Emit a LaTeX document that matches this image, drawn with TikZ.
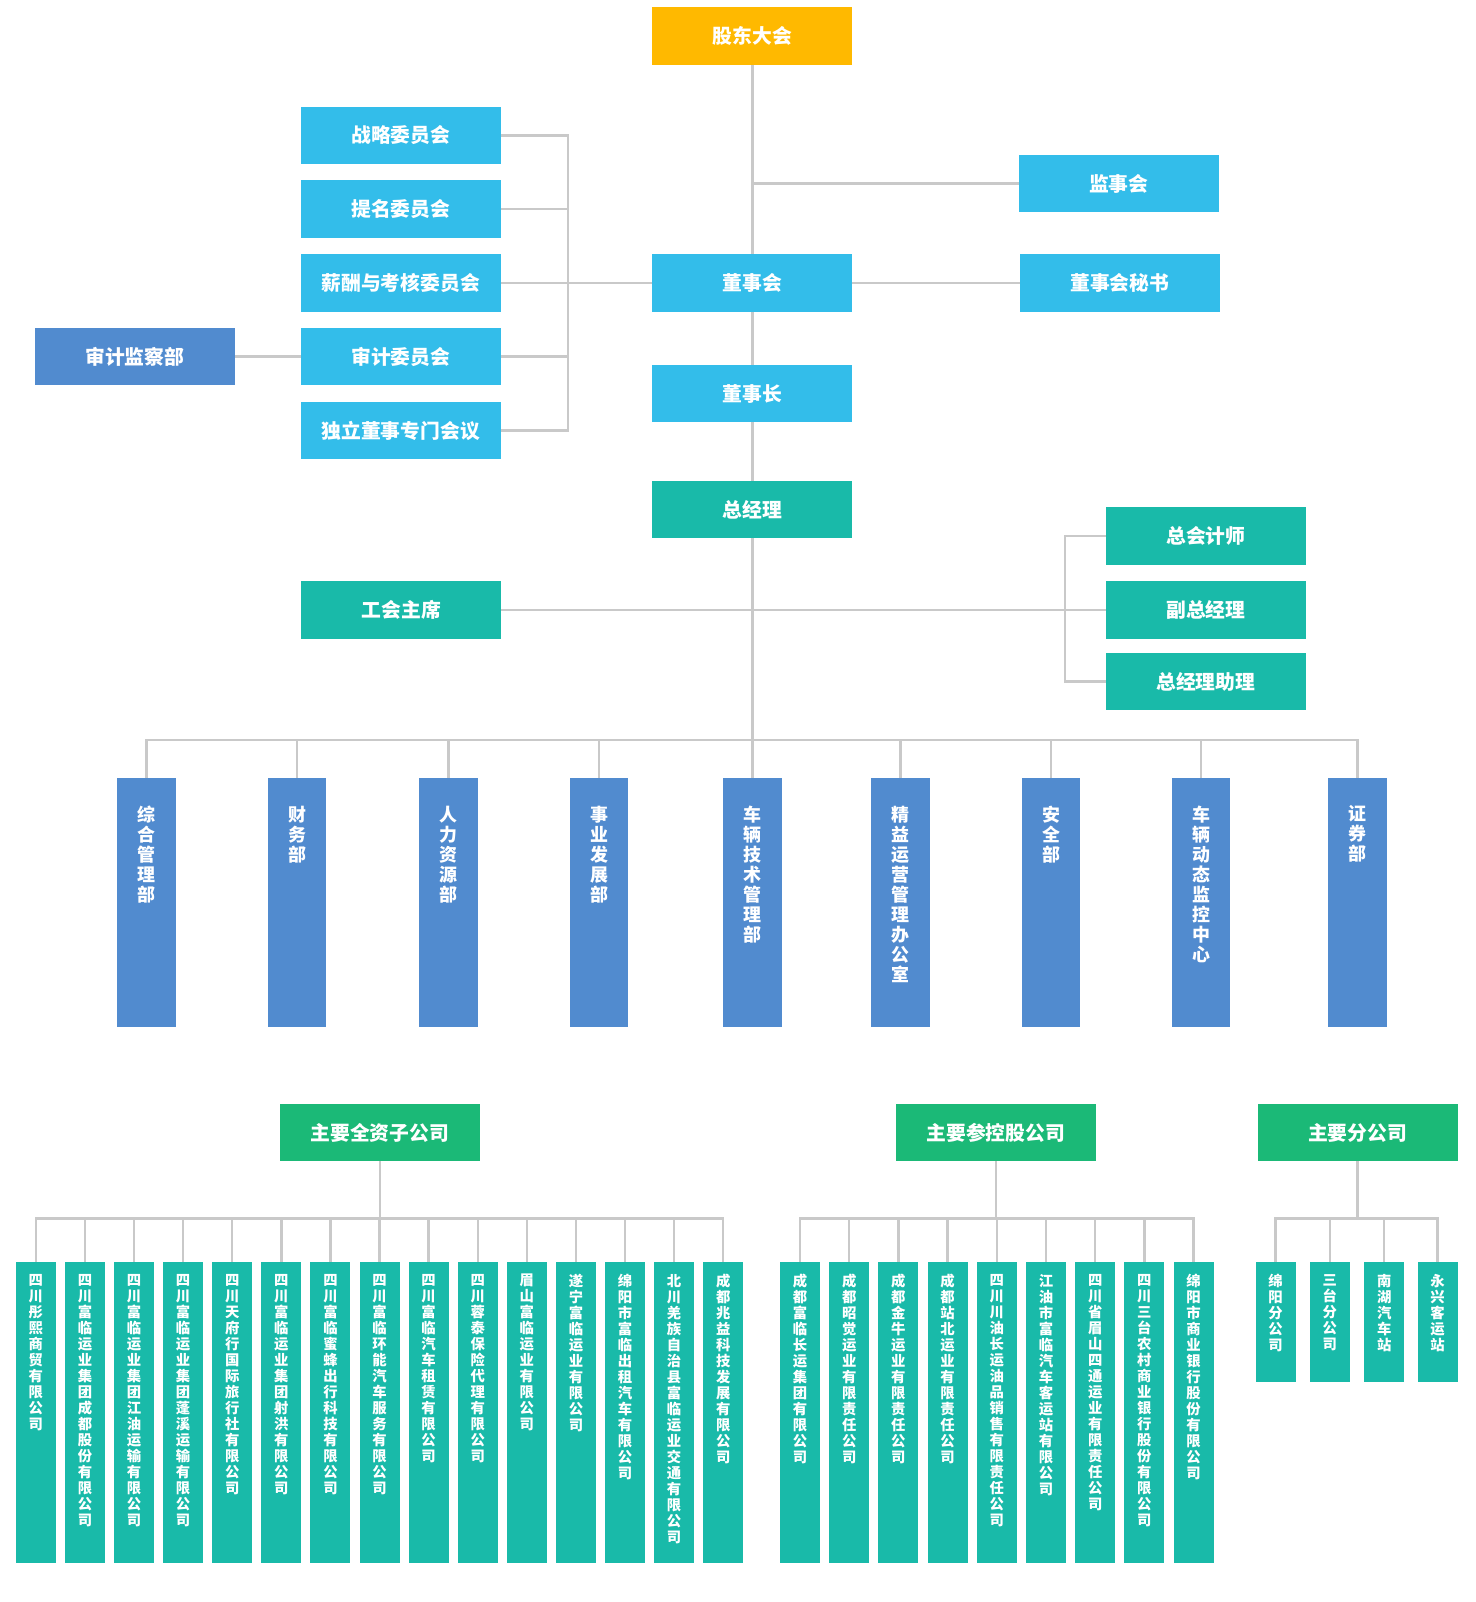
\documentclass[tikz,border=0pt]{standalone}
\usepackage{fontspec}
\setmainfont{Noto Sans CJK SC}
\definecolor{cOrange}{HTML}{FFB900}
\definecolor{cSky}{HTML}{33BDEA}
\definecolor{cTeal}{HTML}{19BAA9}
\definecolor{cBlue}{HTML}{518BCF}
\definecolor{cGreen}{HTML}{1BB977}
\definecolor{cLine}{HTML}{C9C9C9}
\newcommand\vstack[1]{\vstackloop#1\relax}
\def\vstackloop#1{\ifx\relax#1\else#1\par\expandafter\vstackloop\fi}
\newcommand\vlab[4]{\parbox[c][#2][t]{#1}{\centering\vspace*{#3}\vstack{#4}}}
\tikzset{
  hbox/.style={rectangle, inner sep=0pt, minimum width=195pt, minimum height=56pt,
    text=white, font=\fontsize{19.3}{19.3}\selectfont\bfseries},
  dept/.style={rectangle, inner sep=0pt, anchor=north, fill=cBlue, text=white,
    font=\fontsize{17.5}{19.5}\selectfont\bfseries},
  sub/.style={rectangle, inner sep=0pt, anchor=north, fill=cTeal, text=white,
    font=\fontsize{14}{15.6}\selectfont\bfseries},
  conn/.style={draw=cLine, line width=2.4pt}
}
\newcommand\dlab[1]{\vlab{57pt}{243pt}{27pt}{#1}}
\newcommand\slab[1]{\vlab{39pt}{294pt}{12pt}{#1}}
\newcommand\blab[1]{\vlab{39pt}{117pt}{12pt}{#1}}
\begin{document}
\begin{tikzpicture}[x=1pt,y=-1pt]
\useasboundingbox (0,0) rectangle (1440,1563);
% top chain
\node[hbox, fill=cOrange] (gd) at (734,35) {股东大会};
\node[hbox, fill=cSky] (dsh) at (734,276) {董事会};
\node[hbox, fill=cSky] (dsz) at (734,384) {董事长};
\node[hbox, fill=cTeal] (zjl) at (734,497) {总经理};
\node[hbox, fill=cSky] (jsh) at (1091.5,179) {监事会};
\node[hbox, fill=cSky] (ms) at (1092.5,276) {董事会秘书};
% committees
\node[hbox, fill=cSky] (c1) at (391,132) {战略委员会};
\node[hbox, fill=cSky] (c2) at (391,204) {提名委员会};
\node[hbox, fill=cSky] (c3) at (391,276) {薪酬与考核委员会};
\node[hbox, fill=cSky] (c4) at (391,348) {审计委员会};
\node[hbox, fill=cSky] (c5) at (391,420) {独立董事专门会议};
\node[hbox, fill=cBlue] (sj) at (131.5,348) {审计监察部};
\coordinate (bk1) at (554,0);
% general manager group
\node[hbox, fill=cTeal] (zk) at (1176.5,523) {总会计师};
\node[hbox, fill=cTeal] (fz) at (1176.5,595) {副总经理};
\node[hbox, fill=cTeal] (zl) at (1176.5,665) {总经理助理};
\node[hbox, fill=cTeal] (gh) at (391.5,595) {工会主席};
\coordinate (bk2) at (1039,0);
% departments
\coordinate (bus) at (0,722);
\node[dept] (d1) at (143,759) {\dlab{综合管理部}};
\node[dept] (d2) at (290,759) {\dlab{财务部}};
\node[dept] (d3) at (437.5,759) {\dlab{人力资源部}};
\node[dept] (d4) at (584.5,759) {\dlab{事业发展部}};
\node[dept] (d5) at (734,759) {\dlab{车辆技术管理部}};
\node[dept] (d6) at (878.5,759) {\dlab{精益运营管理办公室}};
\node[dept] (d7) at (1025.5,759) {\dlab{安全部}};
\node[dept] (d8) at (1172,759) {\dlab{车辆动态监控中心}};
\node[dept] (d9) at (1324.5,759) {\dlab{证券部}};
% bottom headers
\node[hbox, fill=cGreen] (ha) at (370.5,1105) {主要全资子公司};
\node[hbox, fill=cGreen] (hb) at (971.5,1105) {主要参控股公司};
\node[hbox, fill=cGreen] (hc) at (1324.5,1105) {主要分公司};
\coordinate (bus2) at (0,1189);
% group A
\node[sub] (a1) at (35.0,1231) {\slab{四川彤熙商贸有限公司}};
\node[sub] (a2) at (82.9,1231) {\slab{四川富临运业集团成都股份有限公司}};
\node[sub] (a3) at (130.8,1231) {\slab{四川富临运业集团江油运输有限公司}};
\node[sub] (a4) at (178.7,1231) {\slab{四川富临运业集团蓬溪运输有限公司}};
\node[sub] (a5) at (226.6,1231) {\slab{四川天府行国际旅行社有限公司}};
\node[sub] (a6) at (274.5,1231) {\slab{四川富临运业集团射洪有限公司}};
\node[sub] (a7) at (322.4,1231) {\slab{四川富临蜜蜂出行科技有限公司}};
\node[sub] (a8) at (370.3,1231) {\slab{四川富临环能汽车服务有限公司}};
\node[sub] (a9) at (418.2,1231) {\slab{四川富临汽车租赁有限公司}};
\node[sub] (a10) at (466.1,1231) {\slab{四川蓉泰保险代理有限公司}};
\node[sub] (a11) at (514.0,1231) {\slab{眉山富临运业有限公司}};
\node[sub] (a12) at (561.9,1231) {\slab{遂宁富临运业有限公司}};
\node[sub] (a13) at (609.8,1231) {\slab{绵阳市富临出租汽车有限公司}};
\node[sub] (a14) at (657.7,1231) {\slab{北川羌族自治县富临运业交通有限公司}};
\node[sub] (a15) at (705.6,1231) {\slab{成都兆益科技发展有限公司}};
% group B
\node[sub] (b1) at (780.5,1231) {\slab{成都富临长运集团有限公司}};
\node[sub] (b2) at (828.5,1231) {\slab{成都昭觉运业有限责任公司}};
\node[sub] (b3) at (876.5,1231) {\slab{成都金牛运业有限责任公司}};
\node[sub] (b4) at (924.5,1231) {\slab{成都站北运业有限责任公司}};
\node[sub] (b5) at (972.5,1231) {\slab{四川川油长运油品销售有限责任公司}};
\node[sub] (b6) at (1020.5,1231) {\slab{江油市富临汽车客运站有限公司}};
\node[sub] (b7) at (1068.5,1231) {\slab{四川省眉山四通运业有限责任公司}};
\node[sub] (b8) at (1116.5,1231) {\slab{四川三台农村商业银行股份有限公司}};
\node[sub] (b9) at (1164.5,1231) {\slab{绵阳市商业银行股份有限公司}};
% group C
\node[sub] (e1) at (1244.5,1231) {\blab{绵阳分公司}};
\node[sub] (e2) at (1297.5,1231) {\blab{三台分公司}};
\node[sub] (e3) at (1350.5,1231) {\blab{南湖汽车站}};
\node[sub] (e4) at (1402.5,1231) {\blab{永兴客运站}};
% ---- connectors ----
\draw[conn] (gd.south) -- (dsh.north);
\draw[conn] (dsh.south) -- (dsz.north);
\draw[conn] (dsz.south) -- (zjl.north);
\draw[conn] (zjl.south) -- (d5.north);
\draw[conn] (gd.south |- jsh.west) -- (jsh.west);
\draw[conn] (dsh.east) -- (ms.west);
\draw[conn] (c1.east) -- (c1.east -| bk1) -- (c5.east -| bk1) -- (c5.east);
\draw[conn] (c2.east) -- (c2.east -| bk1);
\draw[conn] (c4.east) -- (c4.east -| bk1);
\draw[conn] (c3.east) -- (dsh.west);
\draw[conn] (sj.east) -- (c4.west);
\draw[conn] (zk.west) -- (zk.west -| bk2) -- (zl.west -| bk2) -- (zl.west);
\draw[conn] (gh.east) -- (fz.west);
% departments bus
\draw[conn] (d1.north) -- (d1.north |- bus) -- (d9.north |- bus) -- (d9.north);
\foreach \n in {d2,d3,d4,d6,d7,d8}{\draw[conn] (\n.north) -- (\n.north |- bus);}
% group A
\draw[conn] (ha.south) -- (ha.south |- bus2);
\draw[conn] (a1.north) -- (a1.north |- bus2) -- (a15.north |- bus2) -- (a15.north);
\foreach \n in {a2,a3,a4,a5,a6,a7,a8,a9,a10,a11,a12,a13,a14}{\draw[conn] (\n.north) -- (\n.north |- bus2);}
% group B
\draw[conn] (hb.south) -- (hb.south |- bus2);
\draw[conn] (b1.north) -- (b1.north |- bus2) -- (b9.north |- bus2) -- (b9.north);
\foreach \n in {b2,b3,b4,b5,b6,b7,b8}{\draw[conn] (\n.north) -- (\n.north |- bus2);}
% group C
\draw[conn] (hc.south) -- (hc.south |- bus2);
\draw[conn] (e1.north) -- (e1.north |- bus2) -- (e4.north |- bus2) -- (e4.north);
\foreach \n in {e2,e3}{\draw[conn] (\n.north) -- (\n.north |- bus2);}
\end{tikzpicture}
\end{document}
